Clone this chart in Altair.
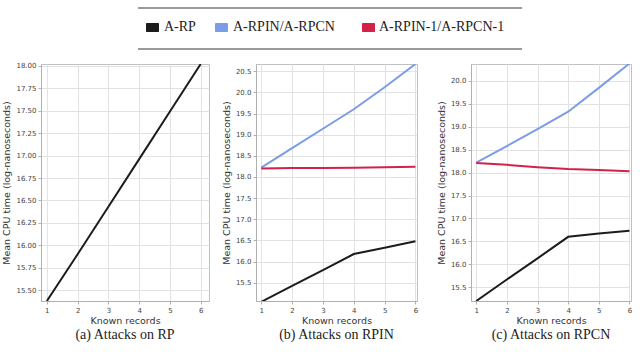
import altair as alt
import pandas as pd

series = ["A-RP", "A-RPIN/A-RPCN", "A-RPIN-1/A-RPCN-1"]
colors = ["#1c1c1c", "#7b9de6", "#d42149"]
records = [1, 2, 3, 4, 5, 6]

# (a) Attacks on RP
rp_a = [15.38, 15.90, 16.43, 16.96, 17.49, 18.02]
# (b) Attacks on RPIN
rp_b = [15.05, 15.43, 15.80, 16.18, 16.33, 16.48]
rpin_b = [18.22, 18.68, 19.14, 19.60, 20.12, 20.67]
rpin1_b = [18.20, 18.21, 18.21, 18.22, 18.23, 18.24]
# (c) Attacks on RPCN
rp_c = [15.20, 15.67, 16.13, 16.60, 16.67, 16.73]
rpcn_c = [18.22, 18.58, 18.95, 19.33, 19.85, 20.38]
rpcn1_c = [18.21, 18.17, 18.12, 18.08, 18.06, 18.03]

captions = ["(a) Attacks on RP", "(b) Attacks on RPIN", "(c) Attacks on RPCN"]
yticks_a = [15.5, 15.75, 16.0, 16.25, 16.5, 16.75, 17.0, 17.25, 17.5, 17.75, 18.0]
yticks_b = [15.5, 16.0, 16.5, 17.0, 17.5, 18.0, 18.5, 19.0, 19.5, 20.0, 20.5]
yticks_c = [15.5, 16.0, 16.5, 17.0, 17.5, 18.0, 18.5, 19.0, 19.5, 20.0]


def frame(panel, pairs):
    rows = []
    for name, vals in pairs:
        for x, y in zip(records, vals):
            rows.append({"panel": panel, "series": name, "x": x, "y": y})
    return pd.DataFrame(rows)


df_a = frame("a", [(series[0], rp_a)])
df_b = frame("b", [(series[0], rp_b), (series[1], rpin_b), (series[2], rpin1_b)])
df_c = frame("c", [(series[0], rp_c), (series[1], rpcn_c), (series[2], rpcn1_c)])

color_scale = alt.Scale(domain=series, range=colors)
sans = "DejaVu Sans"
serif = "Liberation Serif"


def panel(df, xdom, ydom, yticks, yfmt, width, caption):
    return alt.Chart(df).mark_line(strokeWidth=2, clip=True).encode(
        x=alt.X("x:Q", scale=alt.Scale(domain=xdom, nice=False, zero=False),
                axis=alt.Axis(values=records, format="d", title="Known records")),
        y=alt.Y("y:Q", scale=alt.Scale(domain=ydom, nice=False, zero=False),
                axis=alt.Axis(values=yticks, format=yfmt,
                              title="Mean CPU time (log-nanoseconds)")),
        color=alt.Color("series:N", scale=color_scale, legend=None),
        detail="series:N",
    ).properties(
        width=width, height=237,
        title=alt.TitleParams(caption, orient="bottom", font=serif, fontSize=14,
                              fontWeight="normal", color="#222", offset=3),
    )


pa = panel(df_a, [0.81, 6.27], [15.38, 18.02], yticks_a, ".2f", 168, captions[0])
pb_lines = panel(df_b, [0.83, 6.05], [15.07, 20.67], yticks_b, ".1f", 161, captions[1])
pc = panel(df_c, [0.83, 6.05], [15.2, 20.37], yticks_c, ".1f", 160, captions[2])

# legend drawn above panel (b)
leg = pd.DataFrame({"series": series,
                    "sx": [-110, -41, 106],
                    "tx": [-92, -23, 123]})
rules = alt.Chart(pd.DataFrame({"ry": [-56, -15]})).mark_rule(
    color="#9a9a9a", strokeWidth=2).encode(
    x=alt.value(-118), x2=alt.value(266), y=alt.Y("ry:Q", scale=None))
swatch = alt.Chart(leg).mark_rect(cornerRadius=1).encode(
    x=alt.X("sx:Q", scale=None), x2=alt.X2("sx2:Q"),
    y=alt.value(-41), y2=alt.value(-32),
    color=alt.Color("series:N", scale=color_scale, legend=None),
).transform_calculate(sx2="datum.sx + 13")
labels = alt.Chart(leg).mark_text(
    align="left", baseline="middle", font=serif, fontSize=14, color="#222").encode(
    x=alt.X("tx:Q", scale=None), y=alt.value(-37), text="series:N")

pb = alt.layer(pb_lines, rules, swatch, labels).resolve_scale(color="shared")

chart = alt.hconcat(
    pa,
    alt.hconcat(pb, pc, spacing=54, bounds="flush"),
    spacing=47, bounds="flush",
).properties(
    padding={"left": 1, "top": 6, "right": 5, "bottom": 5}
).configure_axis(
    gridColor="#e2e2e2", domainColor="#b0b0b0", tickColor="#b0b0b0",
    tickSize=3, labelFont=sans, labelFontSize=7, labelColor="#444",
    titleFont=sans, titleFontSize=9.5, titleFontWeight="normal",
    titleColor="#333", labelPadding=2,
).configure_axisY(titlePadding=4).configure_axisX(titlePadding=2).configure_view(
    stroke="#c0c0c0"
)

chart.save("out.html", embed_options={"renderer": "svg", "actions": False})
